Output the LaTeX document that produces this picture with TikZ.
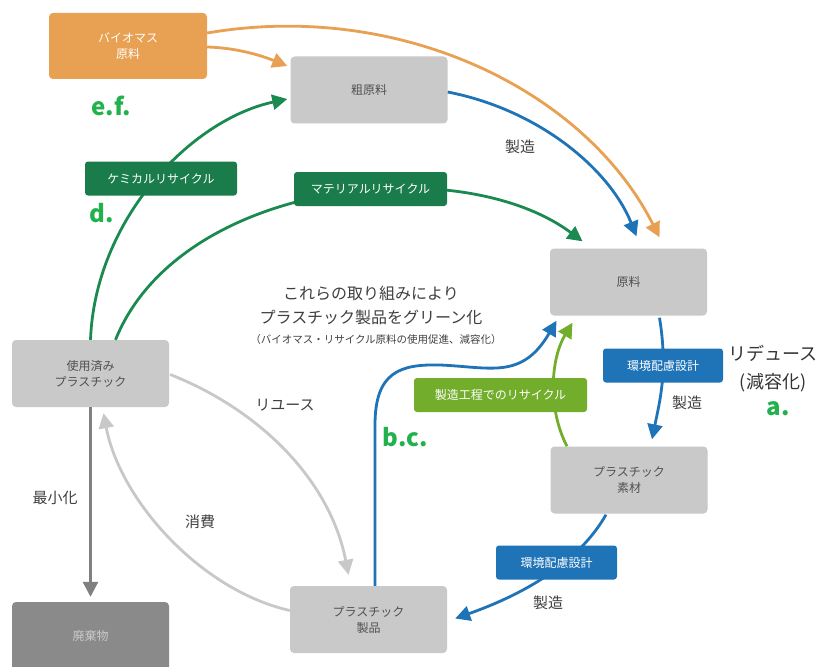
\documentclass[tikz,border=0pt]{standalone}
\usepackage{fontspec}
\setmainfont{Noto Sans CJK JP}
\usetikzlibrary{arrows.meta,calc}
\definecolor{boxgray}{HTML}{C9C9C9}
\definecolor{boxtext}{HTML}{505050}
\definecolor{wastegray}{HTML}{8A8A8A}
\definecolor{orangeC}{HTML}{E8A052}
\definecolor{greenD}{HTML}{1A7C4A}
\definecolor{greenA}{HTML}{1B8A50}
\definecolor{greenL}{HTML}{72AE2C}
\definecolor{blueC}{HTML}{1F73B7}
\definecolor{grayL}{HTML}{C8C8C8}
\definecolor{grayD}{HTML}{808080}
\definecolor{lettergreen}{HTML}{22B14C}
\definecolor{labeltext}{HTML}{404040}
\tikzset{
  box/.style={rectangle, rounded corners=4pt, fill=boxgray, minimum width=157pt, minimum height=67pt, text=boxtext, font=\fontsize{12}{16}\selectfont, align=center, inner sep=0pt},
  tagbox/.style={rectangle, rounded corners=3pt, text=white, font=\fontsize{12}{14}\selectfont, minimum height=34pt, inner sep=0pt},
  arr/.style={line width=2.8pt, -{Triangle[length=15pt,width=15pt]}},
  lbl/.style={text=labeltext, font=\fontsize{15}{18}\selectfont, inner sep=0pt},
  letter/.style={text=lettergreen, font=\bfseries\fontsize{24}{28}\selectfont, inner sep=0pt}
}
\begin{document}
\begin{tikzpicture}[x=1pt,y=-1pt]
\useasboundingbox (0,0) rectangle (821,666);
\clip (0,0) rectangle (821,666);
\fill[white] (0,0) rectangle (821,666);

% boxes
\node[box, fill=orangeC, text=white, minimum width=158pt, minimum height=66pt] (bio) at (128,46) {バイオマス\\原料};
\node[box] (soge) at (369,90) {粗原料};
\node[box] (genryo) at (628.5,282) {原料};
\node[box] (sozai) at (629,480) {プラスチック\\素材};
\node[box] (seihin) at (368.5,619.5) {プラスチック\\製品};
\node[box] (used) at (90.5,373.5) {使用済み\\プラスチック};
\node[box, fill=wastegray, text=boxgray, minimum height=76pt] (waste) at (90.5,640) {};
\node[text=boxgray, font=\fontsize{12}{16}\selectfont] (wastetxt) at (90.5,636) {廃棄物};

% arrows
\draw[arr, orangeC] ($(bio.east)+(0,-13)$) .. controls (400,0) and (585,90) .. ($(genryo.north)+(31,-11)$);
\draw[arr, orangeC] ($(bio.east)+(0,1)$) .. controls (240,48) and (265,57) .. ($(soge.west)+(-3,-24)$);
\draw[arr, blueC] ($(soge.east)+(0,2)$) .. controls (540,110) and (610,170) .. ($(genryo.north)+(8,-12)$);
\draw[arr, greenA] (used.north) .. controls (95,220) and (190,120) .. ($(soge.west)+(-3,9)$);
\draw[arr, greenA] ($(used.north)+(25,0)$) .. controls (180,180) and (460,150) .. ($(genryo.north)+(-46,-7)$);
\draw[arr, blueC] ($(genryo.south)+(31,2)$) .. controls (668,370) and (660,400) .. ($(sozai.north)+(23,-7)$);
\draw[arr, blueC] ($(sozai.south)+(-23,1)$) .. controls (580,560) and (530,592) .. ($(seihin.east)+(8,-1)$);
\draw[arr, blueC] ($(seihin.north)+(6.5,0)$) -- (375,425) .. controls (375,372) and (400,364) .. (440,365) .. controls (490,367) and (522,380) .. ($(genryo.south)+(-72,5)$);
\draw[arr, greenL] ($(sozai.north)+(-62,0)$) .. controls (548,410) and (550,360) .. ($(genryo.south)+(-56,7)$);
\draw[arr, grayL] ($(used.east)+(1,1)$) .. controls (260,410) and (330,480) .. ($(seihin.north)+(-20,-11)$);
\draw[arr, grayL] ($(seihin.west)+(0,-9)$) .. controls (200,590) and (120,500) .. ($(used.south)+(13,6)$);
\draw[arr, grayD] (used.south) -- ($(waste.north)+(0,-5)$);

% tag labels
\node[tagbox, fill=greenD, minimum width=152pt] (chem) at (161,178.5) {ケミカルリサイクル};
\node[tagbox, fill=greenD, minimum width=153pt] (mat) at (370.5,189) {マテリアルリサイクル};
\node[tagbox, fill=greenL, minimum width=173pt] (proc) at (500.5,395) {製造工程でのリサイクル};
\node[tagbox, fill=blueC, minimum width=120pt] (eco1) at (663,365.5) {環境配慮設計};
\node[tagbox, fill=blueC, minimum width=121pt] (eco2) at (556.5,562.5) {環境配慮設計};

% plain labels
\node[lbl] (m1) at (520,147) {製造};
\node[lbl] (m2) at (687,403) {製造};
\node[lbl] (m3) at (548,603) {製造};
\node[lbl] (reuse) at (285,405) {リユース};
\node[lbl] (cons) at (200,522) {消費};
\node[lbl] (mini) at (55,498) {最小化};
\node[lbl, font=\fontsize{16}{24}\selectfont, align=center] (head) at (371,305) {これらの取り組みにより\\プラスチック製品をグリーン化};
\node[lbl, font=\fontsize{10.5}{13}\selectfont] (sub) at (376,340) {（バイオマス・リサイクル原料の使用促進、減容化）};
\node[lbl, text=black!80, font=\fontsize{18}{28}\selectfont, align=center] (reduce) at (773,369) {リデュース\\(減容化)};

% letters
\node[letter] (a) at (778,409) {a.};
\node[letter] (ef) at (111,106) {e.f.};
\node[letter] (d) at (102,213) {d.};
\node[letter] (bc) at (405,437) {b.c.};
\end{tikzpicture}
\end{document}
